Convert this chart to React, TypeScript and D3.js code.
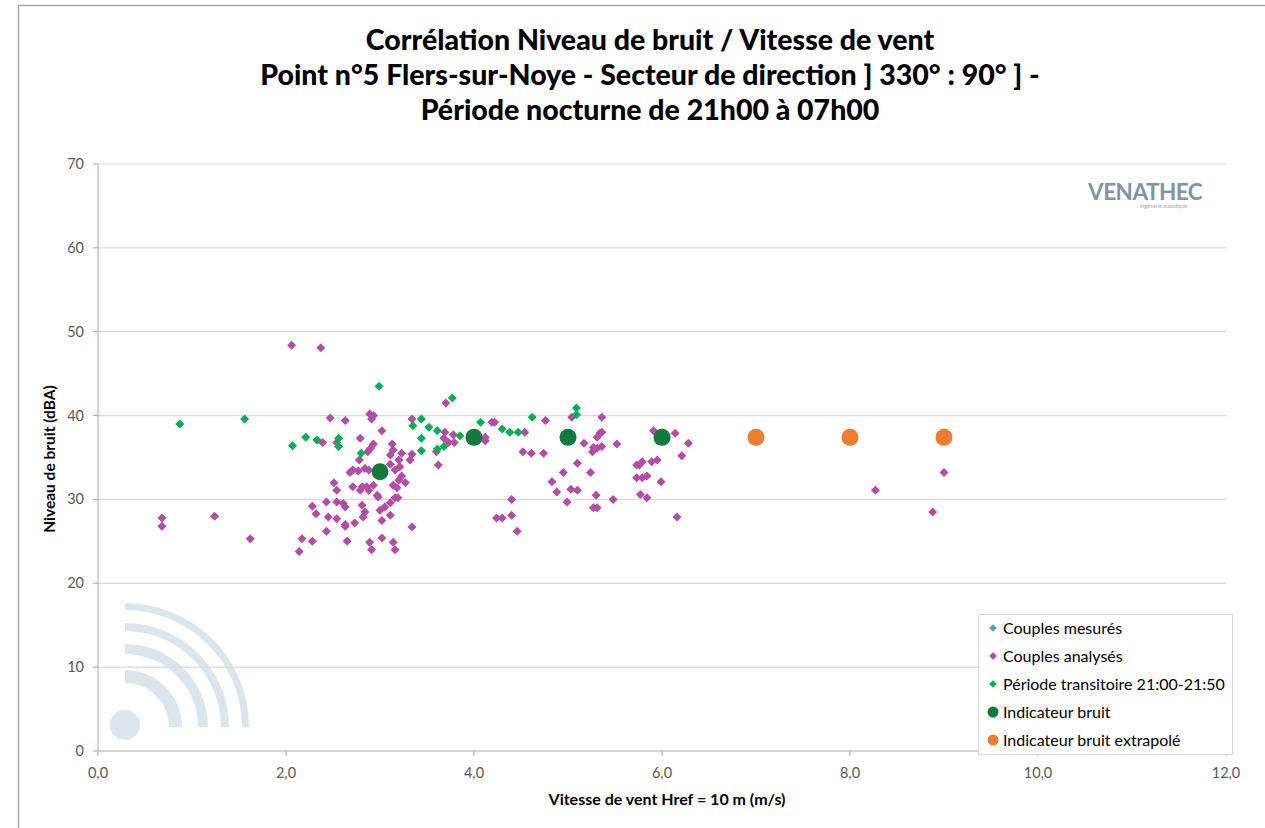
import React from "react";
import * as d3 from "d3";

const titleLines = [
  "Corrélation Niveau de bruit / Vitesse de vent",
  "Point n°5 Flers-sur-Noye - Secteur de direction ] 330° : 90° ] -",
  "Période nocturne de 21h00 à 07h00",
];

const xTicks = [0, 2, 4, 6, 8, 10, 12];
const yTicks = [0, 10, 20, 30, 40, 50, 60, 70];

// Couples analysés [vitesse, niveau]
const analyses: [number, number][] = [
  [0.68, 27.8], [0.68, 26.8], [1.24, 28.0], [1.62, 25.3], [2.06, 48.4], [2.37, 48.1],
  [2.14, 23.8], [2.17, 25.3], [2.28, 25.0], [2.28, 29.2], [2.32, 28.3], [2.43, 26.2],
  [2.43, 29.7], [2.45, 27.9], [2.54, 27.7], [2.51, 32.0], [2.54, 31.1], [2.54, 29.7],
  [2.61, 29.5], [2.63, 26.8], [2.65, 25.0], [2.68, 33.2], [2.47, 39.7], [2.63, 39.4],
  [2.39, 36.8], [2.54, 36.8],
  [2.89, 40.2], [2.93, 40.0], [2.91, 39.6], [3.02, 38.2], [3.34, 39.6], [2.79, 37.3],
  [2.93, 36.6], [2.90, 36.1], [2.87, 35.7], [3.13, 36.6], [3.14, 35.9], [3.11, 35.3],
  [3.23, 35.5], [3.20, 34.7], [3.34, 35.4], [3.32, 34.7], [3.62, 34.1], [2.78, 34.7],
  [2.71, 33.5], [2.77, 33.4], [2.84, 33.7], [2.88, 33.5], [3.11, 34.2], [3.16, 33.5],
  [3.21, 33.9], [3.23, 32.8], [3.20, 32.3], [3.14, 31.7], [3.18, 31.4], [3.27, 32.0],
  [2.71, 31.5], [2.81, 31.5], [2.79, 31.1], [2.86, 31.5], [2.88, 31.1], [2.93, 31.7],
  [2.97, 30.5], [2.98, 30.3], [2.63, 29.1], [2.81, 29.3], [2.84, 28.5], [2.82, 27.9],
  [3.05, 29.1], [3.11, 29.6], [3.16, 30.2], [3.19, 30.2], [3.00, 28.7], [3.11, 28.1],
  [3.02, 27.5], [2.63, 27.0], [2.73, 27.2], [3.34, 26.7], [2.89, 24.9], [2.91, 24.0],
  [3.02, 25.4], [3.14, 24.9], [3.16, 24.0],
  [3.70, 41.5], [3.69, 38.0], [3.78, 37.7], [3.68, 37.3], [3.73, 36.8], [3.79, 36.8],
  [3.60, 35.7],
  [4.12, 37.4], [4.12, 37.0], [4.19, 39.2], [4.22, 39.2], [4.54, 38.0], [4.76, 39.4],
  [5.04, 39.8], [5.36, 39.8], [4.52, 35.7], [4.61, 35.5], [4.74, 35.5], [5.17, 36.7],
  [5.34, 37.9], [5.31, 37.4], [5.27, 36.2], [5.31, 36.1], [5.26, 35.7], [5.52, 36.6],
  [5.10, 34.3], [4.95, 33.2], [5.24, 33.2], [4.83, 32.1], [4.88, 30.9], [5.03, 31.2],
  [5.10, 31.1], [5.30, 30.5], [5.48, 30.0], [4.40, 30.0], [4.99, 29.7], [5.27, 29.0],
  [5.31, 29.0], [4.24, 27.8], [4.30, 27.8], [4.40, 28.1], [4.46, 26.2], [5.73, 34.1],
  [5.73, 32.6],
  [5.36, 38.0], [5.36, 36.3], [5.91, 38.2], [6.14, 37.9], [6.28, 36.7], [6.21, 35.2],
  [5.79, 34.5], [5.76, 34.1], [5.89, 34.5], [5.95, 34.7], [5.79, 32.6], [5.84, 32.8],
  [5.99, 32.1], [5.77, 30.6], [5.84, 30.2], [6.16, 27.9], [9.0, 33.2], [8.27, 31.1],
  [8.88, 28.5],
];

// Période transitoire 21:00-21:50
const transitoire: [number, number][] = [
  [0.87, 39.0], [1.56, 39.6], [2.07, 36.4], [2.21, 37.4], [2.33, 37.1], [2.56, 37.3],
  [2.56, 36.3], [2.80, 35.5], [2.99, 43.5], [3.77, 42.1], [3.35, 38.8], [3.44, 39.6],
  [3.52, 38.6], [3.61, 38.2], [3.44, 37.3], [3.61, 36.0], [3.44, 35.8], [3.68, 36.3],
  [3.85, 37.6], [4.07, 39.2], [4.30, 38.4], [4.38, 38.0], [4.47, 38.0], [4.62, 39.8],
  [5.09, 40.9], [5.09, 40.1],
];

const indicateur: [number, number][] = [[3, 33.3], [4, 37.4], [5, 37.4], [6, 37.4]];
const extrapole: [number, number][] = [[7, 37.4], [8, 37.4], [9, 37.4]];

const legendItems = [
  { label: "Couples mesurés", color: "#5B9BD5", shape: "diamond" },
  { label: "Couples analysés", color: "#B34CA6", shape: "diamond" },
  { label: "Période transitoire 21:00-21:50", color: "#00B050", shape: "diamond" },
  { label: "Indicateur bruit", color: "#127B3C", shape: "circle" },
  { label: "Indicateur bruit extrapolé", color: "#ED7D31", shape: "circle" },
];

const W = 1265;
const H = 828;
const M = { left: 98, right: 1226, top: 164, bottom: 751 };
const FONT = "Lato, 'Open Sans', sans-serif";

const diamond = (r: number) => `M0,${-r}L${r},0L0,${r}L${-r},0Z`;

export default function App() {
  const x = d3.scaleLinear().domain([0, 12]).range([M.left, M.right]);
  const y = d3.scaleLinear().domain([0, 70]).range([M.bottom, M.top]);
  const fmt = (v: number) => v.toFixed(1).replace(".", ",");

  const cx = 125, cy = 727;
  const arcGen = d3.arc();
  const bands = [
    [117, 124],
    [96, 104],
    [73, 83],
    [44, 57],
  ];

  return (
    <div style={{ position: "fixed", left: 0, top: 0 }}>
      <svg width={W} height={H} style={{ display: "block", background: "#fff" }}>
        <rect x={18.5} y={5.5} width={W} height={H} fill="#fff" stroke="#A6A6A6" strokeWidth={1.5} />

        {titleLines.map((t, i) => (
          <text key={i} x={650} y={50 + i * 35} textAnchor="middle" fontFamily={FONT}
            fontWeight="900" fontSize={28.5} fill="#000">{t}</text>
        ))}

        {/* watermark icon */}
        <g fill="#DDE5EC">
          {bands.map(([r0, r1], i) => (
            <path key={i} transform={`translate(${cx},${cy})`}
              d={arcGen({ innerRadius: r0, outerRadius: r1, startAngle: 0, endAngle: Math.PI / 2 }) || ""} />
          ))}
          <circle cx={cx} cy={cy - 2} r={15} />
        </g>

        {/* gridlines */}
        {yTicks.filter((v) => v > 0).map((v) => (
          <line key={v} x1={M.left} x2={M.right} y1={y(v)} y2={y(v)} stroke="#D9D9D9" strokeWidth={1.2} />
        ))}

        {/* axes */}
        <line x1={M.left} x2={M.left} y1={M.top} y2={M.bottom} stroke="#A6A6A6" />
        <line x1={M.left} x2={M.right} y1={M.bottom} y2={M.bottom} stroke="#A6A6A6" />
        {yTicks.map((v) => (
          <g key={v}>
            <line x1={M.left - 5} x2={M.left} y1={y(v)} y2={y(v)} stroke="#A6A6A6" />
            <text x={M.left - 14} y={y(v) + 5} textAnchor="end" fontFamily={FONT} fontSize={14.5} fill="#595959">{v}</text>
          </g>
        ))}
        {xTicks.map((v) => (
          <g key={v}>
            <line x1={x(v)} x2={x(v)} y1={M.bottom} y2={M.bottom + 5} stroke="#A6A6A6" />
            <text x={x(v)} y={778} textAnchor="middle" fontFamily={FONT} fontSize={14.5} fill="#595959">{fmt(v)}</text>
          </g>
        ))}

        <text x={667} y={805} textAnchor="middle" fontFamily={FONT} fontWeight="bold" fontSize={16} fill="#000">
          Vitesse de vent Href = 10 m (m/s)
        </text>
        <text transform={`translate(55,459) rotate(-90)`} textAnchor="middle" fontFamily={FONT}
          fontWeight="bold" fontSize={15.5} fill="#000">Niveau de bruit (dBA)</text>

        {/* logo */}
        <g>
          <text x={1088} y={200} fontFamily={FONT} fontWeight="bold" fontSize={22.5} fill="#8392A4" letterSpacing={-0.5}>VENATHEC</text>
          <text x={1140} y={208} fontFamily={FONT} fontSize={5} fill="#9AA6B2">Ingénierie acoustique</text>
        </g>

        {/* series */}
        {analyses.map(([a, b], i) => (
          <path key={"a" + i} transform={`translate(${x(a)},${y(b)})`} d={diamond(4.5)} fill="#B34CA6" />
        ))}
        {transitoire.map(([a, b], i) => (
          <path key={"t" + i} transform={`translate(${x(a)},${y(b)})`} d={diamond(4.5)} fill="#00B050" />
        ))}
        {indicateur.map(([a, b], i) => (
          <circle key={"i" + i} cx={x(a)} cy={y(b)} r={8.5} fill="#127B3C" />
        ))}
        {extrapole.map(([a, b], i) => (
          <circle key={"e" + i} cx={x(a)} cy={y(b)} r={8.5} fill="#ED7D31" />
        ))}

        {/* legend */}
        <rect x={978.5} y={614.5} width={254} height={140} fill="#fff" stroke="#D9D9D9" />
        {legendItems.map((it, i) => {
          const ly = 628 + i * 28;
          return (
            <g key={i}>
              {it.shape === "diamond" ? (
                <path transform={`translate(${993},${ly})`} d={diamond(3.8)} fill={it.color} />
              ) : (
                <circle cx={993} cy={ly} r={5.5} fill={it.color} />
              )}
              <text x={1003} y={ly + 5.5} fontFamily={FONT} fontSize={16} fill="#000">{it.label}</text>
            </g>
          );
        })}
      </svg>
    </div>
  );
}
